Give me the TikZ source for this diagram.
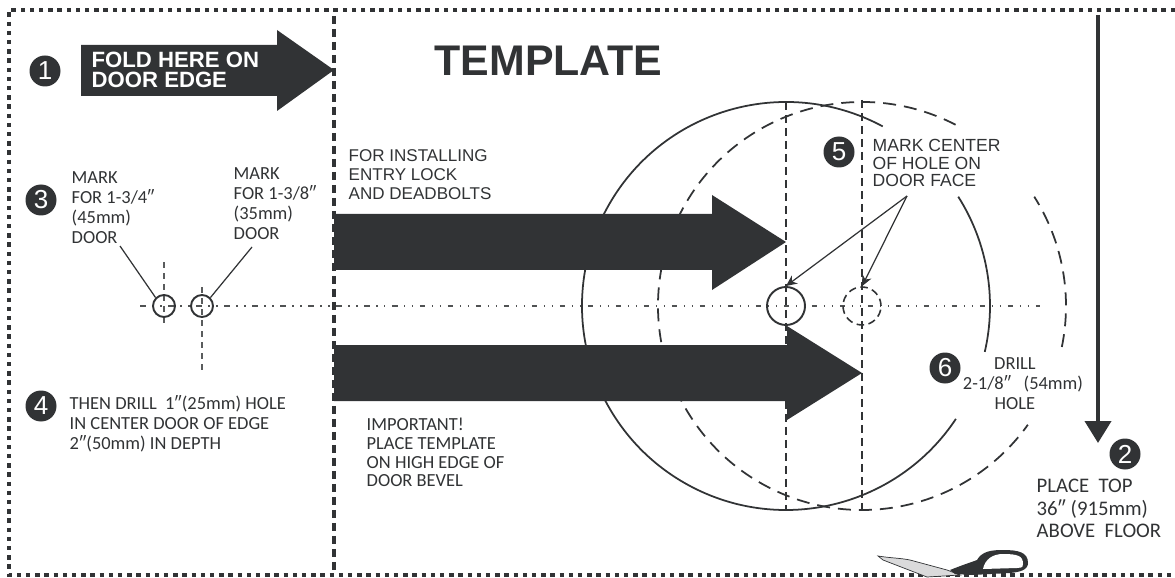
\documentclass[tikz,border=0pt]{standalone}
\usepackage{fontspec}
\usetikzlibrary{arrows.meta}
\setmainfont{Carlito}
\newfontfamily\arialfont{Liberation Sans}
\definecolor{ink}{HTML}{313335}
\tikzset{
    badge/.style={circle, fill=ink, text=white, minimum size=0.31cm, inner sep=0pt, font=\arialfont\fontsize{7.4pt}{7.4pt}\selectfont},
    bigarrow/.style={fill=ink, draw=none},
    note/.style={align=left, anchor=west, inner sep=0pt, text=ink, font=\fontsize{5.25pt}{5.7pt}\selectfont},
    plainnote/.style={align=left, anchor=west, inner sep=0pt, text=ink, font=\arialfont\fontsize{4.85pt}{5.4pt}\selectfont},
    centerline/.style={draw=ink!85, line width=0.3pt, dash pattern=on 0.55mm off 0.65mm on 0.15mm off 0.65mm on 0.15mm off 0.65mm},
    sideline/.style={draw=ink, line width=0.3pt, dash pattern=on 0.8mm off 0.5mm},
    shortline/.style={draw=ink!80, line width=0.35pt, dash pattern=on 0.55mm off 0.55mm},
    widedash/.style={draw=ink, line width=0.5pt, dash pattern=on 1.3mm off 0.8mm},
    wholeline/.style={draw=ink, line width=0.5pt},
    leader/.style={draw=ink, line width=0.35pt}
}

\begin{document}
\begin{tikzpicture}
    \useasboundingbox (0, 0) rectangle (11.75, 5.77);

    \draw [ink, line width=1.05pt, dash pattern=on 0.45mm off 0.47mm] (11.75, 5.67) -- (0.09, 5.67) -- (0.09, 0.02) -- (11.75, 0.02);

    \coordinate (bigA) at (7.86, 2.71);
    \coordinate (bigB) at (8.62, 2.71);

    \draw [wholeline] ([shift={(61.7:2.04)}]bigA) arc (61.7:326.4:2.04);
    \draw [wholeline] ([shift={(-13:2.04)}]bigA) arc (-13:32.4:2.04);
    \draw [widedash] ([shift={(62.7:2.04)}]bigB) arc (62.7:324.4:2.04);
    \draw [widedash] ([shift={(-11.6:2.04)}]bigB) arc (-11.6:32.4:2.04);

    \draw [sideline] (7.86, 4.75) -- (7.86, 0.67);
    \draw [sideline] (8.62, 4.77) -- (8.62, 0.67);
    \draw [shortline] (1.64, 3.15) -- (1.64, 2.52);
    \draw [shortline] (2.02, 2.90) -- (2.02, 2.04);
    \draw [centerline] (1.40, 2.71) -- (10.40, 2.71);

    \draw [ink, line width=0.95pt, dash pattern=on 0.8mm off 0.5mm] (3.34, 5.61) -- (3.34, 0.07);

    \fill [bigarrow] (0.81, 5.32) -- (2.77, 5.32) -- (2.77, 5.47) -- (3.34, 5.07) -- (2.77, 4.66) -- (2.77, 4.81) -- (0.81, 4.81) -- cycle;
    \fill [bigarrow] (3.34, 3.63) -- (7.12, 3.63) -- (7.12, 3.82) -- (7.86, 3.35) -- (7.12, 2.87) -- (7.12, 3.07) -- (3.34, 3.07) -- cycle;
    \fill [bigarrow] (3.34, 2.32) -- (7.87, 2.32) -- (7.87, 2.51) -- (8.62, 2.04) -- (7.87, 1.57) -- (7.87, 1.76) -- (3.34, 1.76) -- cycle;

    \node [draw=ink, circle, line width=0.55pt, minimum size=0.38cm, inner sep=0pt] (drillA) at (bigA) {};
    \node [draw=ink, circle, line width=0.45pt, dash pattern=on 0.75mm off 0.45mm, minimum size=0.38cm, inner sep=0pt] (drillB) at (bigB) {};
    \node [draw=ink, circle, line width=0.55pt, minimum size=0.22cm, inner sep=0pt] (holeA) at (1.64, 2.71) {};
    \node [draw=ink, circle, line width=0.55pt, minimum size=0.22cm, inner sep=0pt] (holeB) at (2.02, 2.71) {};

    \node [badge] (one) at (0.45, 5.06) {1};
    \node [badge] (three) at (0.41, 3.77) {3};
    \node [badge] (four) at (0.41, 1.71) {4};
    \node [badge] (five) at (8.39, 4.25) {5};
    \node [badge] (six) at (9.45, 2.09) {6};
    \node [badge] (two) at (11.25, 1.23) {2};

    \node [inner sep=0pt, text=white, align=left, anchor=west, font=\arialfont\bfseries\fontsize{6.3pt}{5.6pt}\selectfont] (fold) at (0.91, 5.07) {FOLD HERE ON \\ DOOR EDGE};
    \node [inner sep=0pt, text=ink, font=\arialfont\bfseries\fontsize{12.2pt}{12.2pt}\selectfont] (title) at (5.485, 5.16) {TEMPLATE};
    \node [plainnote] (install) at (3.48, 4.02) {FOR INSTALLING \\ ENTRY LOCK \\ AND DEADBOLTS};
    \node [plainnote, font=\arialfont\fontsize{5pt}{4.95pt}\selectfont] (center) at (8.72, 4.14) {MARK CENTER \\ OF HOLE ON \\ DOOR FACE};
    \node [note] (doorA) at (0.71, 3.695) {MARK \\ FOR 1-3/4″ \\ (45mm) \\ DOOR};
    \node [note] (doorB) at (2.33, 3.73) {MARK \\ FOR 1-3/8″ \\ (35mm) \\ DOOR};
    \node [note] (then) at (0.69, 1.53) {THEN DRILL~~1″(25mm) HOLE \\ IN CENTER DOOR OF EDGE \\ 2″(50mm) IN DEPTH};
    \node [note, font=\fontsize{5.25pt}{5.35pt}\selectfont] (bevel) at (3.66, 1.245) {IMPORTANT! \\ PLACE TEMPLATE \\ ON HIGH EDGE OF \\ DOOR BEVEL};
    \node [note, align=center, anchor=center] (drill) at (10.23, 1.93) {DRILL\hspace*{4.6pt} \\ 2-1/8″~~~(54mm) \\ HOLE\hspace*{4.6pt}};
    \node [note, font=\fontsize{5.9pt}{6.4pt}\selectfont] (place) at (10.36, 0.685) {PLACE~~TOP \\ 36″ (915mm) \\ ABOVE~~FLOOR};

    \coordinate (leadA) at (1.20, 3.31);
    \coordinate (leadB) at (2.52, 3.30);
    \coordinate (leadC) at (9.07, 3.81);
    \coordinate (topline) at (10.98, 5.62);
    \coordinate (topend) at (10.98, 1.34);

    \draw [leader] (leadA) -- (holeA.135);
    \draw [leader] (leadB) -- (holeB.45);
    \draw [leader, -{Stealth[length=1.1mm, width=1mm]}] (leadC) -- (drillA.north);
    \draw [leader, -{Stealth[length=1.1mm, width=1mm]}] (leadC) -- (drillB.north);
    \draw [ink, line width=1.15pt, -{Triangle[length=2.2mm, width=2.6mm]}] (topline) -- (topend);

    \filldraw [fill=ink!18, draw=ink, line width=0.2pt] (8.78, 0.21) .. controls (8.90, 0.19) and (9.00, 0.19) .. (9.10, 0.17) -- (9.47, 0.07) -- (9.60, 0.02) -- (9.27, 0) -- (8.83, 0.17) -- cycle;
    \fill [ink] (9.50, 0.07) .. controls (9.65, 0.13) and (9.72, 0.15) .. (9.77, 0.17) .. controls (9.82, 0.26) and (9.92, 0.27) .. (10.03, 0.27) .. controls (10.18, 0.27) and (10.28, 0.25) .. (10.28, 0.14) .. controls (10.28, 0.07) and (10.20, 0.05) .. (10.10, 0.04) -- (9.72, 0.02) -- (9.55, 0.03) -- cycle;
    \fill [white] (9.83, 0.08) .. controls (9.85, 0.18) and (9.93, 0.23) .. (10.03, 0.23) .. controls (10.18, 0.23) and (10.23, 0.21) .. (10.23, 0.13) .. controls (10.23, 0.09) and (10.20, 0.09) .. (10.17, 0.09) -- cycle;

\end{tikzpicture}
\end{document}
